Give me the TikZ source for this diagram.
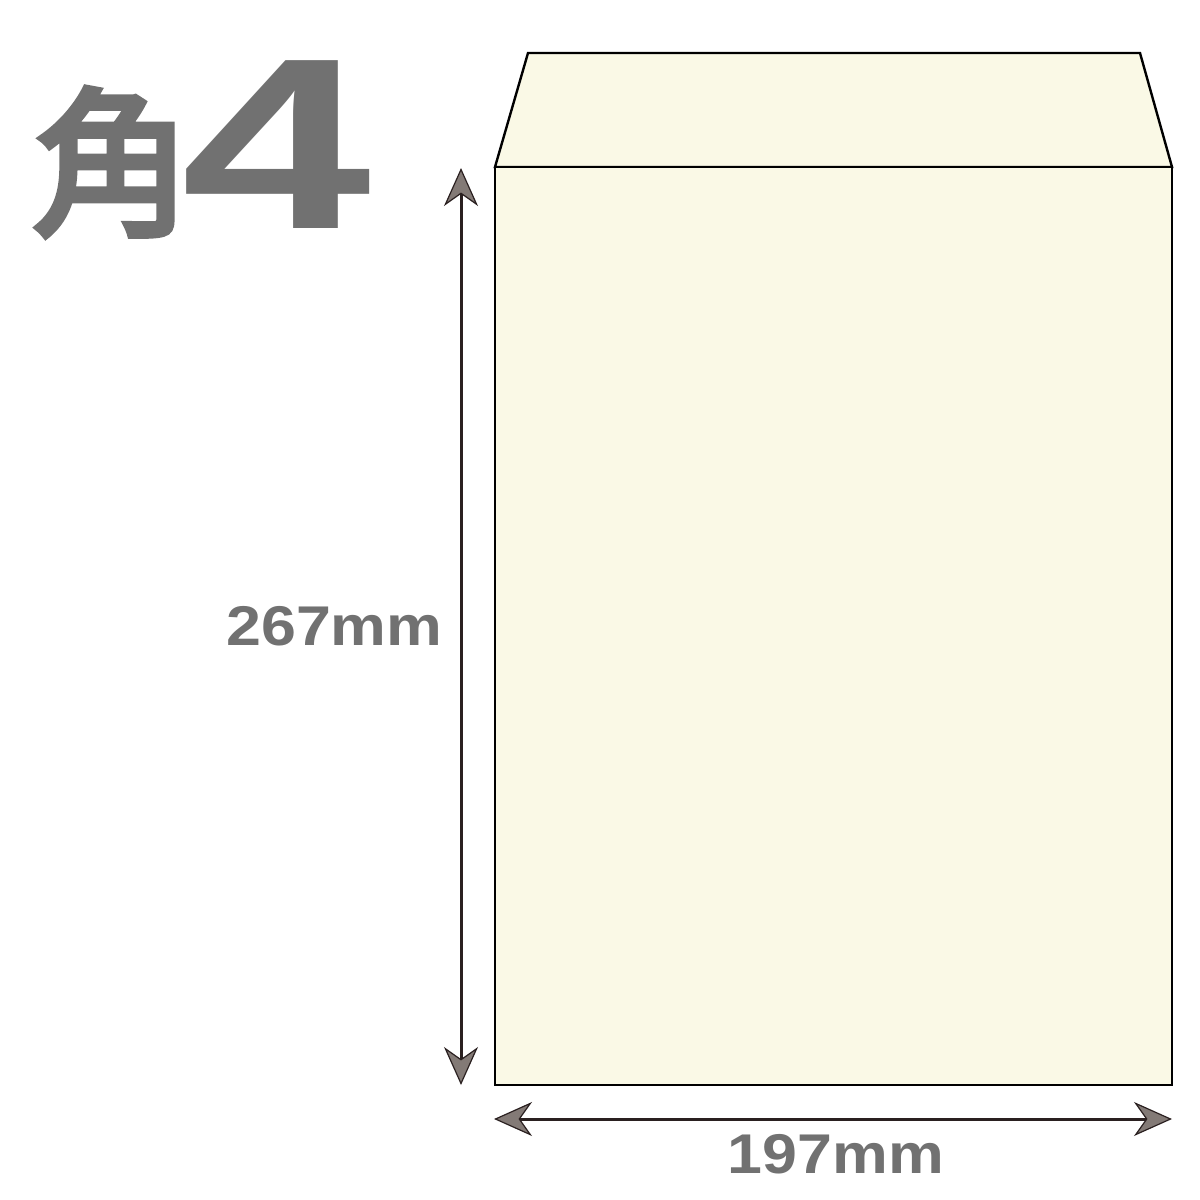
\documentclass[tikz,border=0pt]{standalone}
\usepackage{fontspec}
\setmainfont{Liberation Sans}
\newfontfamily\cjk[FakeBold=4]{Noto Sans CJK JP}
\usetikzlibrary{arrows.meta}
\definecolor{paper}{HTML}{FAF9E6}
\definecolor{txtgray}{HTML}{717171}
\definecolor{tipgray}{HTML}{837A76}
\definecolor{shaft}{HTML}{2A2020}
\tikzset{
  envline/.style={draw=black, line width=1.2pt, line join=miter, fill=paper},
  dimarrow/.style={draw=shaft, line width=1.5pt,
    {Stealth[length=19pt,width=17pt,inset=6pt,fill=tipgray,line width=0.6pt]}-{Stealth[length=19pt,width=17pt,inset=6pt,fill=tipgray,line width=0.6pt]}},
  dimlabel/.style={text=txtgray, font=\bfseries\fontsize{28}{30}\selectfont, inner sep=0pt}
}
\begin{document}
\begin{tikzpicture}[x=0.5pt,y=-0.5pt]
\useasboundingbox (0,0) rectangle (1200,1200);
% envelope
\draw[envline] (495,167) -- (528,53) -- (1140,53) -- (1172,167) -- cycle;
\draw[envline] (495,167) rectangle (1172,1085);
% dimension arrows
\coordinate (vtop) at (461,168);
\coordinate (vbot) at (461,1085);
\coordinate (hl) at (494,1119);
\coordinate (hr) at (1172,1119);
\draw[dimarrow] (vtop) -- (vbot);
\draw[dimarrow] (hl) -- (hr);
% labels
\node[dimlabel, anchor=east, xscale=1.12] (hlab) at (443,626) {267mm};
\node[dimlabel, anchor=center, xscale=1.12] (wlab) at (836,1154) {197mm};
% title
\node[text=txtgray, inner sep=0pt, anchor=center] (kaku) at (112,162) {\cjk\fontsize{80}{90}\selectfont 角};
\node[text=txtgray, inner sep=0pt, anchor=center, xscale=1.40] (four) at (276,145) {\bfseries\fontsize{122}{130}\selectfont 4};
\end{tikzpicture}
\end{document}
